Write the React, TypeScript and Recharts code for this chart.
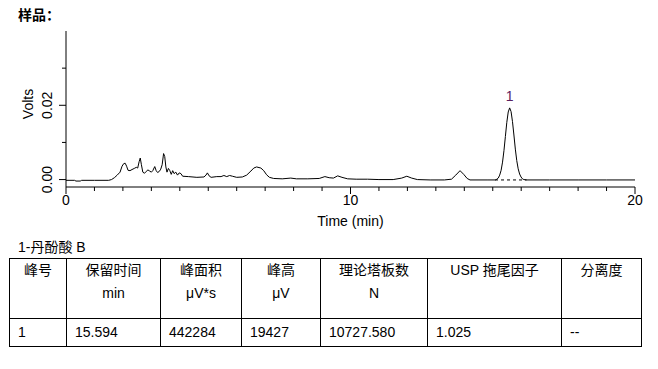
import React from 'react';
import { LineChart, Line, XAxis, YAxis, ReferenceDot } from 'recharts';

// ---- data ----
const times = [
  0.0, 0.3, 0.35, 0.5, 0.55, 1.0, 1.5, 1.6, 1.7, 1.8, 1.9, 1.97, 2.03, 2.08, 2.13, 2.18, 2.25, 2.32, 2.4, 2.47,
  2.52, 2.57, 2.61, 2.65, 2.7, 2.76, 2.82, 2.88, 2.94, 3.0, 3.05, 3.12, 3.17, 3.22, 3.28, 3.33, 3.38, 3.43, 3.47, 3.51,
  3.55, 3.6, 3.65, 3.7, 3.75, 3.8, 3.86, 3.92, 3.98, 4.04, 4.1, 4.3, 4.6, 4.85, 4.92, 4.97, 5.03, 5.1, 5.3, 5.45,
  5.55, 5.65, 5.75, 5.85, 6.0, 6.2, 6.35, 6.5, 6.6, 6.7, 6.85, 6.95, 7.05, 7.15, 7.3, 7.6, 7.9, 8.1, 8.5, 8.9,
  9.1, 9.25, 9.4, 9.55, 9.7, 9.9, 10.2, 10.6, 11.0, 11.5, 11.8, 11.98, 12.15, 12.35, 12.8, 13.3, 13.55, 13.7, 13.85, 13.98,
  14.1, 14.2, 14.8, 15.094, 15.144, 15.194, 15.244, 15.294, 15.344, 15.394, 15.444, 15.494, 15.544, 15.594, 15.644, 15.694, 15.744, 15.794, 15.844, 15.894,
  15.944, 15.994, 16.044, 16.094, 16.2, 17.0, 18.0, 19.0, 20.0,
];
const volts = [
  -0.0002, -0.0002, -0.0004, -0.0004, -0.0002, -0.0002, -0.0002, 0.0, 0.0005, 0.0012, 0.002, 0.0036, 0.0043, 0.0044, 0.0036, 0.0025, 0.0024, 0.0027, 0.003, 0.0033,
  0.0031, 0.0048, 0.0058, 0.004, 0.002, 0.0017, 0.0022, 0.0026, 0.0023, 0.002, 0.0024, 0.0035, 0.0024, 0.0019, 0.0022, 0.0028, 0.004, 0.007, 0.0062, 0.0034,
  0.002, 0.003, 0.0024, 0.0014, 0.0024, 0.0016, 0.002, 0.0012, 0.0018, 0.0016, 0.0009, 0.0008, 0.0006, 0.0007, 0.0012, 0.0018, 0.001, 0.0006, 0.0008, 0.0008,
  0.0011, 0.0008, 0.0011, 0.0009, 0.0006, 0.0007, 0.0012, 0.0023, 0.0031, 0.0034, 0.0031, 0.0024, 0.0013, 0.0006, 0.0003, 0.0002, 0.0004, 0.0002, 0.0002, 0.0003,
  0.0008, 0.0005, 0.0004, 0.001, 0.0006, 0.0002, 0.0001, 0.0001, 0.0, 0.0, 0.0004, 0.0009, 0.0004, 0.0, -0.0001, -0.0001, 0.0001, 0.0012, 0.0024, 0.0014,
  0.0003, -0.0001, -0.0001, -0.0001, 0.0001, 0.0004, 0.0012, 0.0025, 0.0047, 0.0078, 0.0116, 0.0154, 0.0182, 0.0193, 0.0183, 0.0156, 0.012, 0.0082, 0.0051, 0.0029,
  0.0015, 0.0007, 0.0002, 0.0, -0.0001, -0.0001, -0.0001, -0.0001, -0.0001,
];
const baselineTimes = [15.08, 16.19];
const baselineVolts = [-0.0001, -0.0001];
const peakLabels = ['1'];
const peakTimes = [15.594];
const peakHeights = [0.0193];

const xTicks = [0, 1, 2, 3, 4, 5, 6, 7, 8, 9, 10, 11, 12, 13, 14, 15, 16, 17, 18, 19, 20];
const xLabeled = [0, 10, 20];
const yTicks = [0, 0.01, 0.02, 0.03];
const yLabeled = [0, 0.02];

const tableTitle = '1-丹酚酸 B';
const headerLine1 = ['峰号', '保留时间', '峰面积', '峰高', '理论塔板数', 'USP 拖尾因子', '分离度'];
const headerLine2 = ['', 'min', 'μV*s', 'μV', 'N', '', ''];
const rowValues = ['1', '15.594', '442284', '19427', '10727.580', '1.025', '--'];

// ---- layout ----
const colWidths = [57, 94, 81, 79, 107, 134, 80];
const FONT = '"Liberation Sans", Arial, "Noto Sans CJK SC", sans-serif';
const AXIS_FS = 14;

const trace = times.map((t, i) => ({ t, v: volts[i] }));
const baseline = baselineTimes.map((t, i) => ({ t, v: baselineVolts[i] }));

const XTick = (props: any) => {
  const { x, y, payload } = props;
  const major = xLabeled.includes(payload.value);
  return (
    <g>
      <line x1={x} x2={x} y1={y} y2={y + (major ? 7 : 4)} stroke="#000" />
      {major && (
        <text x={x} y={y + 18} textAnchor="middle" fontSize={AXIS_FS} fill="#000">
          {payload.value}
        </text>
      )}
    </g>
  );
};

const YTick = (props: any) => {
  const { x, y, payload } = props;
  const major = yLabeled.includes(payload.value);
  return (
    <g>
      <line x1={x - (major ? 7 : 4)} x2={x} y1={y} y2={y} stroke="#000" />
      {major && (
        <text transform={`translate(${x - 14},${y}) rotate(-90)`} textAnchor="middle" fontSize={AXIS_FS} fill="#000">
          {payload.value.toFixed(2)}
        </text>
      )}
    </g>
  );
};

const VoltsLabel = (props: any) => {
  const vb = props.viewBox || { x: 0, y: 31, width: 66, height: 156 };
  const cx = vb.x + 33;
  const cy = vb.y + vb.height / 2 - 5;
  return (
    <text transform={`translate(${cx},${cy}) rotate(-90)`} textAnchor="middle" fontSize={AXIS_FS} fill="#000">
      Volts
    </text>
  );
};

const TimeLabel = (props: any) => {
  const vb = props.viewBox || { x: 66, y: 187, width: 569, height: 53 };
  return (
    <text x={vb.x + vb.width / 2} y={vb.y + 39} textAnchor="middle" fontSize={AXIS_FS} fill="#000">
      Time (min)
    </text>
  );
};

export default function App() {
  return (
    <div style={{ position: 'absolute', left: 0, top: 0, width: 658, height: 369, background: '#fff', fontFamily: FONT, color: '#000' }}>
      <div style={{ position: 'absolute', left: 18, top: 7, fontSize: 14, lineHeight: '16px', fontWeight: 'bold' }}>样品：</div>
      <div style={{ position: 'absolute', left: 0, top: 0 }}>
        <LineChart width={658} height={240} margin={{ top: 31, right: 23, bottom: 0, left: 0 }}>
          <XAxis
            type="number"
            dataKey="t"
            domain={[0, 20]}
            ticks={xTicks}
            interval={0}
            allowDataOverflow
            height={53}
            tickSize={0}
            tickMargin={0}
            tickLine={false}
            axisLine={{ stroke: '#000' }}
            tick={<XTick />}
            label={<TimeLabel />}
          />
          <YAxis
            type="number"
            dataKey="v"
            domain={[-0.002, 0.04]}
            ticks={yTicks}
            interval={0}
            allowDataOverflow
            width={66}
            tickSize={0}
            tickMargin={0}
            tickLine={false}
            axisLine={{ stroke: '#000' }}
            tick={<YTick />}
            label={<VoltsLabel />}
          />
          <Line data={trace} dataKey="v" type="linear" stroke="#000" strokeWidth={1} dot={false} isAnimationActive={false} />
          <Line data={baseline} dataKey="v" type="linear" stroke="#000" strokeWidth={1} strokeDasharray="3 3" dot={false} isAnimationActive={false} />
          <ReferenceDot
            x={peakTimes[0]}
            y={peakHeights[0]}
            r={0}
            stroke="none"
            fill="none"
            label={{ value: peakLabels[0], position: 'top', offset: 7, fill: '#5a2060', fontSize: 14 }}
          />
        </LineChart>
      </div>
      <div style={{ position: 'absolute', left: 18, top: 239, fontSize: 14, lineHeight: '16px' }}>{tableTitle}</div>
      <div
        style={{
          position: 'absolute',
          left: 9,
          top: 258,
          borderTop: '1px solid #000',
          borderLeft: '1px solid #000',
          display: 'grid',
          gridTemplateColumns: colWidths.map((w) => `${w}px`).join(' '),
          gridTemplateRows: '60px 28px',
          fontSize: 14,
        }}
      >
        {headerLine1.map((h, i) => (
          <div key={'h' + i} style={{ boxSizing: 'border-box', borderRight: '1px solid #000', borderBottom: '1px solid #000', textAlign: 'center', paddingTop: 1 }}>
            <div style={{ lineHeight: '20px', height: 20 }}>{h}</div>
            <div style={{ lineHeight: '20px', height: 20, marginTop: 3 }}>{headerLine2[i]}</div>
          </div>
        ))}
        {rowValues.map((v, i) => (
          <div key={'r' + i} style={{ boxSizing: 'border-box', borderRight: '1px solid #000', borderBottom: '1px solid #000', paddingLeft: 8, lineHeight: '27px' }}>
            {v}
          </div>
        ))}
      </div>
    </div>
  );
}
